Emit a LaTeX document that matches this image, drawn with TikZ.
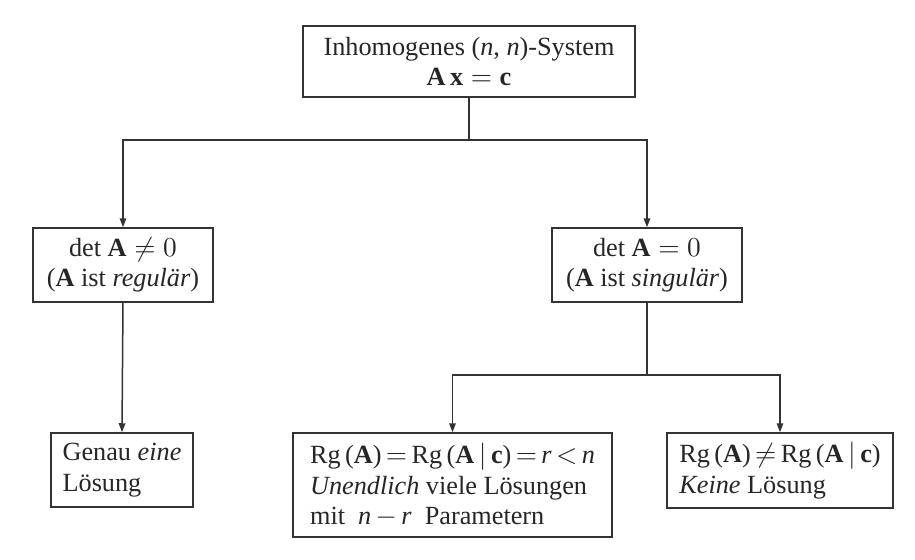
\documentclass[tikz,border=0pt]{standalone}
\usepackage{fontspec}
\setmainfont{Liberation Serif}
\usetikzlibrary{arrows.meta}
\begin{document}
\begin{tikzpicture}[x=0.4pt,y=-0.4pt,
  every node/.style={text=black!85},
  box/.style={draw=black!80, line width=0.6pt, inner sep=0pt, align=center,
    font=\fontsize{10.5}{12.2}\selectfont},
  lbox/.style={draw=black!80, line width=0.6pt, inner sep=0pt,
    align=left, font=\fontsize{10.5}{12.2}\selectfont},
  conn/.style={draw=black!80, line width=0.6pt},
  arr/.style={conn, -{Triangle[length=3.6pt,width=2.6pt]}}]
\useasboundingbox (0,0) rectangle (915,560);
\node[box, minimum width=132.8pt, minimum height=28.4pt] (top) at (469,61.5)
  {Inhomogenes (\textit{n}, \textit{n})-System\\ $\mathbf{A}\,\mathbf{x}=\mathbf{c}$};
\node[box, minimum width=72pt, minimum height=29.6pt] (L) at (123,265)
  {det $\mathbf{A}\neq 0$\\ (\textbf{A} ist \textit{regulär})};
\node[box, minimum width=76pt, minimum height=29.6pt] (R) at (647,265)
  {det $\mathbf{A}=0$\\ (\textbf{A} ist \textit{singulär})};
\node[lbox, minimum width=56.8pt, minimum height=29.6pt] (G) at (122,470)
  {Genau \textit{eine}\\ Lösung};
\node[lbox, minimum width=127.6pt, minimum height=41.6pt] (M) at (452.5,485)
  {Rg\,($\mathbf{A}$)\,$=$\,Rg\,($\mathbf{A}\,|\,\mathbf{c}$)\,$=$\,\textit{r}\,$<$\,\textit{n}\\
   \textit{Unendlich} viele Lösungen\\ mit \ \textit{n}\,$-$\,\textit{r} \ Parametern};
\node[lbox, minimum width=90.4pt, minimum height=30pt] (K) at (780,470.5)
  {Rg\,($\mathbf{A}$)\,$\neq$\,Rg\,($\mathbf{A}\,|\,\mathbf{c}$)\\ \textit{Keine} Lösung};
\coordinate (j1) at (469,140);
\coordinate (j2) at (647,375);
\draw[conn] (top.south) -- (j1);
\draw[arr] (j1) -| (L.north);
\draw[arr] (j1) -| (R.north);
\draw[arr] (L.south) -- (G.north);
\draw[conn] (R.south) -- (j2);
\draw[arr] (j2) -| (M.north);
\draw[arr] (j2) -| (K.north);
\end{tikzpicture}
\end{document}
